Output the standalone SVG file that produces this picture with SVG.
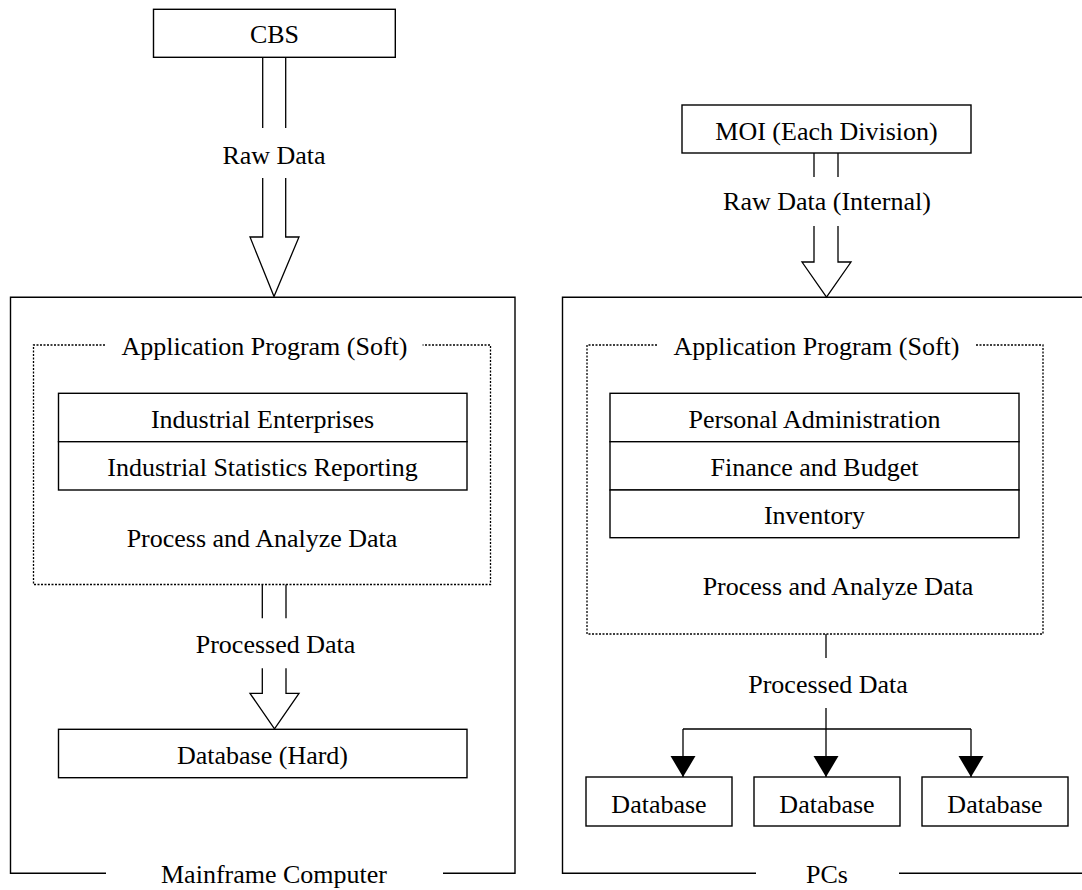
<svg xmlns="http://www.w3.org/2000/svg" width="1082" height="890" viewBox="0 0 1082 890">
<style>
.box{fill:#fff;stroke:#000;stroke-width:1.4}
.frame{fill:none;stroke:#000;stroke-width:1.4}
.dot{fill:none;stroke:#000;stroke-width:1.3;stroke-dasharray:2 1.5}
.ln{fill:none;stroke:#000;stroke-width:1.3}
.t{font-family:"Liberation Serif","Times New Roman",serif;font-size:26px;fill:#000;text-anchor:middle}
</style>
<defs>
<marker id="ah" markerUnits="userSpaceOnUse" markerWidth="22" markerHeight="26" refX="21" refY="12.5" orient="auto">
<path d="M0,0 L21,12.5 L0,25 z" fill="#000"/>
</marker>
</defs>
<rect width="1082" height="890" fill="#fff"/>

<g id="mainframe">
<path class="frame" d="M106,873.3 H10.5 V297.3 H515 V873.3 H443"/>
<text class="t" x="274" y="883">Mainframe Computer</text>
</g>
<g id="pcs">
<path class="frame" d="M756,873.3 H562.5 V297.3 H1090 M899,873.3 H1090"/>
<text class="t" x="827" y="883">PCs</text>
</g>

<g id="cbs">
<rect class="box" x="153.5" y="9.3" width="241.8" height="48"/>
<text class="t" x="274.5" y="43">CBS</text>
</g>
<g id="moi">
<rect class="box" x="682" y="105" width="289" height="48"/>
<text class="t" x="826.5" y="140">MOI (Each Division)</text>
</g>

<g id="app-left">
<path class="dot" d="M105,345 H33.5 V584.5 H490.5 V345 H422.6"/>
<text class="t" x="264.5" y="355">Application Program (Soft)</text>
<text class="t" x="262" y="547">Process and Analyze Data</text>
</g>
<g id="ind-ent">
<rect class="box" x="58.5" y="393.3" width="408.5" height="48.4"/>
<text class="t" x="262.5" y="428">Industrial Enterprises</text>
</g>
<g id="ind-stat">
<rect class="box" x="58.5" y="441.7" width="408.5" height="48.3"/>
<text class="t" x="262.5" y="476">Industrial Statistics Reporting</text>
</g>
<g id="db-hard">
<rect class="box" x="58.5" y="729.3" width="408.5" height="48.4"/>
<text class="t" x="262.5" y="764">Database (Hard)</text>
</g>

<g id="app-right">
<path class="dot" d="M657,345 H587 V634 H1043 V345 H975"/>
<text class="t" x="816.5" y="355">Application Program (Soft)</text>
<text class="t" x="838" y="595">Process and Analyze Data</text>
</g>
<g id="personal">
<rect class="box" x="610" y="393.3" width="409" height="48.4"/>
<text class="t" x="814.5" y="428">Personal Administration</text>
</g>
<g id="finance">
<rect class="box" x="610" y="441.7" width="409" height="48.3"/>
<text class="t" x="814.5" y="476">Finance and Budget</text>
</g>
<g id="inventory">
<rect class="box" x="610" y="490" width="409" height="47.7"/>
<text class="t" x="814.5" y="524">Inventory</text>
</g>
<g id="db1">
<rect class="box" x="586" y="777" width="146" height="49"/>
<text class="t" x="659" y="813">Database</text>
</g>
<g id="db2">
<rect class="box" x="754" y="777" width="146" height="49"/>
<text class="t" x="827" y="813">Database</text>
</g>
<g id="db3">
<rect class="box" x="922" y="777" width="146" height="49"/>
<text class="t" x="995" y="813">Database</text>
</g>

<g id="connectors">
<!-- CBS -> Mainframe -->
<path class="ln" d="M262.7,57.3 V128 M285.7,57.3 V128"/>
<path class="ln" fill="#fff" d="M262.7,178 V237 H250 L274,296.5 L299,237 H285.7 V178"/>
<text class="t" x="274" y="164">Raw Data</text>
<!-- App -> Database (Hard) -->
<path class="ln" d="M262.3,584.5 V618.3 M286,584.5 V618.3"/>
<path class="ln" d="M262.3,668.3 V693.3 H250 L274.5,728.8 L299,693.3 H286 V668.3"/>
<text class="t" x="275.5" y="653">Processed Data</text>
<!-- MOI -> PCs -->
<path class="ln" d="M814,153 V177 M838,153 V177"/>
<path class="ln" d="M814,226 V262 H802 L826.5,297 L851,262 H838 V226"/>
<text class="t" x="827" y="210">Raw Data (Internal)</text>
<!-- App -> Databases -->
<path class="ln" d="M826,634 V658"/>
<text class="t" x="828" y="693">Processed Data</text>
<path class="ln" d="M826,708 V729 M683,729 H971"/>
<path class="ln" marker-end="url(#ah)" d="M683,729 V777"/>
<path class="ln" marker-end="url(#ah)" d="M826,729 V777"/>
<path class="ln" marker-end="url(#ah)" d="M971,729 V777"/>
</g>
</svg>
